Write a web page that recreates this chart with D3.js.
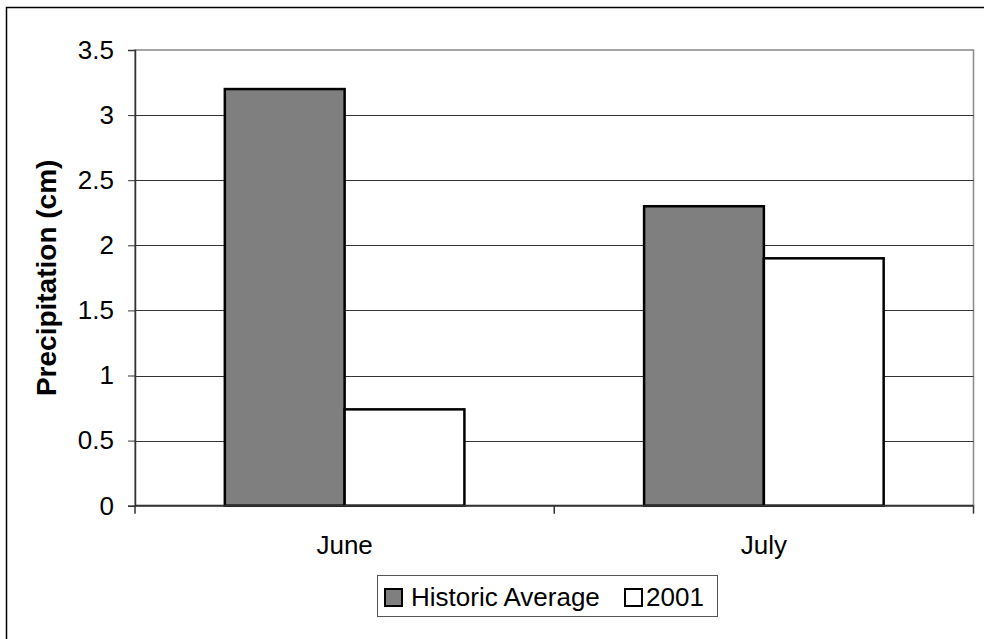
<!DOCTYPE html>
<html>
<head>
<meta charset="utf-8">
<script src="https://cdn.jsdelivr.net/npm/d3@7"></script>
<style>
  html, body { margin: 0; padding: 0; background: #fff; }
  svg { display: block; font-family: "Liberation Sans", Arial, sans-serif; }
</style>
</head>
<body>
<svg id="chart" width="984" height="639"></svg>
<script>
const categories = ["June", "July"];
const seriesNames = ["Historic Average", "2001"];
const historic = [3.2, 2.3];
const y2001 = [0.74, 1.9];
const yTicks = [0, 0.5, 1, 1.5, 2, 2.5, 3, 3.5];
const yTitle = "Precipitation (cm)";

const colors = ["#7f7f7f", "#ffffff"];
const svg = d3.select("#chart");

// outer chart border (right and bottom edges lie outside the picture)
svg.append("rect").attr("x", 6.5).attr("y", 7.5).attr("width", 1000).attr("height", 700)
  .attr("fill", "none").attr("stroke", "#000").attr("stroke-width", 1.5);

const pL = 135, pR = 973.5, pT = 50, pB = 505.7;
const x0 = d3.scaleBand().domain(categories).range([pL, pR]).paddingInner(0).paddingOuter(0);
const y = d3.scaleLinear().domain([0, 3.5]).range([pB, pT]);

// plot area border
svg.append("rect").attr("x", pL).attr("y", pT).attr("width", pR - pL).attr("height", pB - pT)
  .attr("fill", "none").attr("stroke", "#888").attr("stroke-width", 1.5);

// gridlines
svg.append("g").selectAll("line").data(yTicks.filter(d => d > 0 && d < 3.5)).join("line")
  .attr("x1", pL).attr("x2", pR)
  .attr("y1", d => Math.round(y(d)) + 0.5).attr("y2", d => Math.round(y(d)) + 0.5)
  .attr("stroke", "#333").attr("stroke-width", 1);

// bars
const bw = x0.bandwidth() / 3.5;
const x1 = d3.scaleBand().domain(seriesNames).range([0, 2 * bw]);
const data = categories.map((c, i) => ({ c, vals: [historic[i], y2001[i]] }));
const g = svg.append("g");
data.forEach(d => {
  d.vals.forEach((v, j) => {
    const bx = x0(d.c) + (x0.bandwidth() - 2 * bw) / 2 + x1(seriesNames[j]);
    g.append("rect")
      .attr("x", bx).attr("y", y(v))
      .attr("width", x1.bandwidth()).attr("height", y(0) - y(v))
      .attr("fill", colors[j]).attr("stroke", "#000").attr("stroke-width", 2.5);
  });
});

// y axis
const yAxis = d3.axisLeft(y).tickValues(yTicks).tickSize(7).tickPadding(14)
  .tickFormat(d => String(d));
const ya = svg.append("g").attr("transform", `translate(${pL},0)`).call(yAxis);
ya.select(".domain").attr("stroke", "#333").attr("stroke-width", 1.5);
ya.selectAll(".tick line").attr("stroke", "#333");
ya.selectAll("text").attr("font-size", 26).attr("fill", "#000")
  .attr("font-family", "Liberation Sans, Arial, sans-serif");

// x axis
const xa = svg.append("g").attr("transform", `translate(0,${pB})`);
xa.append("line").attr("x1", pL).attr("x2", pR).attr("y1", 0).attr("y2", 0)
  .attr("stroke", "#333").attr("stroke-width", 2);
const bounds = [pL, ...categories.map(c => x0(c) + x0.bandwidth())];
xa.selectAll("line.tk").data(bounds).join("line").attr("class", "tk")
  .attr("x1", d => d).attr("x2", d => d).attr("y1", 0).attr("y2", 8)
  .attr("stroke", "#333").attr("stroke-width", 1.5);
xa.selectAll("text").data(categories).join("text")
  .attr("x", d => x0(d) + x0.bandwidth() / 2).attr("y", 48)
  .attr("text-anchor", "middle").attr("font-size", 26).attr("fill", "#000")
  .text(d => d);

// y title
svg.append("text")
  .attr("transform", `translate(56,${(pT + pB) / 2}) rotate(-90)`)
  .attr("text-anchor", "middle").attr("font-size", 28).attr("font-weight", "bold")
  .text(yTitle);

// legend
const lg = svg.append("g");
lg.append("rect").attr("x", 377.5).attr("y", 575.5).attr("width", 340).attr("height", 41)
  .attr("fill", "#fff").attr("stroke", "#555").attr("stroke-width", 1);
const legendX = [385, 625];
const legendTextX = [411, 646];
seriesNames.forEach((s, i) => {
  lg.append("rect").attr("x", legendX[i]).attr("y", 589).attr("width", 17).attr("height", 17)
    .attr("fill", colors[i]).attr("stroke", "#000").attr("stroke-width", 2);
  lg.append("text").attr("x", legendTextX[i]).attr("y", 606)
    .attr("font-size", 26).attr("fill", "#000").text(s);
});
</script>
</body>
</html>
